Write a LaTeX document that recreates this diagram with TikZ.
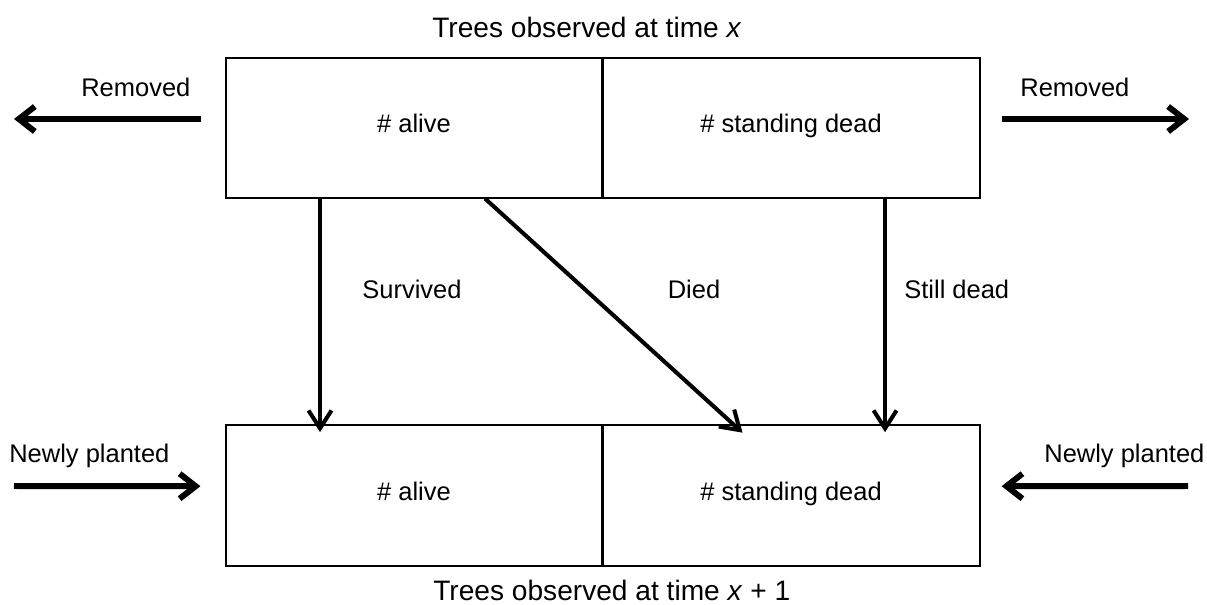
\documentclass[tikz,border=0pt]{standalone}
\usepackage{fontspec}
\setmainfont{Liberation Sans}
\usetikzlibrary{arrows.meta}

\tikzset{
  half/.style={draw, line width=0.6pt, minimum width=7.52cm, minimum height=2.8cm, inner sep=0pt, text height=0.72em, text depth=0.22em, font=\fontsize{14.5}{17}\selectfont},
  frame/.style={line width=1.1pt},
  flow/.style={line width=2.3pt, -{Straight Barb[length=0.36cm, width=0.46cm]}},
  side/.style={line width=3.4pt, -{Straight Barb[length=0.32cm, width=0.5cm]}},
  lbl/.style={font=\fontsize{14.5}{17}\selectfont, inner sep=0pt},
  ttl/.style={font=\fontsize{16}{19}\selectfont, inner sep=0pt, anchor=base west}
}

\begin{document}
\begin{tikzpicture}

\useasboundingbox (0,0) rectangle (24.14,12.08);

% Time x
\node[half] (top_alive) at (8.28,9.52) {\# alive};
\node[half, anchor=west] (top_dead) at (top_alive.east) {\# standing dead};
\draw[frame] (top_alive.north west) rectangle (top_dead.south east);
\node[ttl] (top_title) at (8.64,11.34) {Trees observed at time \textit{x}};

% Time x + 1
\node[half] (bot_alive) at (8.28,2.166) {\# alive};
\node[half, anchor=west] (bot_dead) at (bot_alive.east) {\# standing dead};
\draw[frame] (bot_alive.north west) rectangle (bot_dead.south east);
\node[ttl] (bot_title) at (8.66,0.08) {Trees observed at time \textit{x} + 1};

% Removed
\coordinate (rem_l) at (0.28,9.7);
\coordinate (rem_r) at (23.78,9.7);
\draw[side] ([xshift=-0.48cm, yshift=0.18cm]top_alive.west) -- (rem_l);
\draw[side] ([xshift=0.44cm, yshift=0.18cm]top_dead.east) -- (rem_r);
\node[lbl, anchor=base west] (rem_l_txt) at (1.62,10.15) {Removed};
\node[lbl, anchor=base west] (rem_r_txt) at (20.4,10.15) {Removed};

% Newly planted
\coordinate (new_l) at (0.28,2.36);
\coordinate (new_r) at (23.76,2.36);
\draw[side] (new_l) -- ([xshift=-0.5cm, yshift=0.19cm]bot_alive.west);
\draw[side] (new_r) -- ([xshift=0.44cm, yshift=0.19cm]bot_dead.east);
\node[lbl, anchor=base west] (new_l_txt) at (0.18,2.826) {Newly planted};
\node[lbl, anchor=base west] (new_r_txt) at (20.88,2.826) {Newly planted};

% Transitions
\draw[flow] ([xshift=-1.88cm]top_alive.south) -- ([xshift=-1.88cm, yshift=-0.14cm]bot_alive.north);
\draw[flow] ([xshift=1.42cm]top_alive.south) -- ([xshift=-0.97cm, yshift=-0.15cm]bot_dead.north);
\draw[flow] ([xshift=1.88cm]top_dead.south) -- ([xshift=1.88cm, yshift=-0.14cm]bot_dead.north);
\node[lbl, anchor=base] (survived) at (8.24,6.11) {Survived};
\node[lbl, anchor=base] (died) at (13.88,6.11) {Died};
\node[lbl, anchor=base west] (still_dead) at (18.08,6.11) {Still dead};

\end{tikzpicture}
\end{document}
